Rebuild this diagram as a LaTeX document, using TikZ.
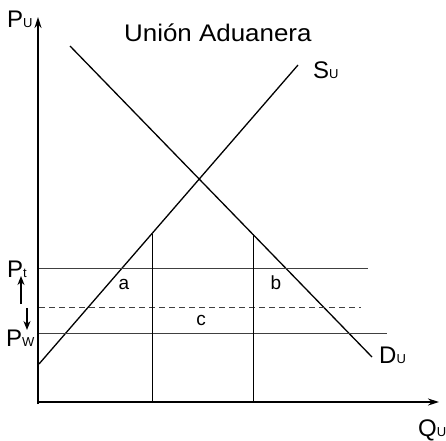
\documentclass[tikz,border=0pt]{standalone}
\usepackage{fontspec}
\setmainfont{Liberation Sans}
\newfontfamily\titlefont[FakeStretch=1.08]{Liberation Sans}
\usetikzlibrary{arrows.meta}
\newcommand{\bigtxt}{\fontsize{24}{27}\selectfont}
\newcommand{\subtxt}[1]{{\fontsize{13}{15}\selectfont #1}}

\begin{document}
\begin{tikzpicture}[x=1pt,y=1pt,yscale=-1,xscale=1]
            \useasboundingbox (0,0) rectangle (446,440);
            
            %Axes
            \coordinate (yfoot) at (38,404);
            \coordinate (ytop) at (38,17);
            \coordinate (xfoot) at (37,402);
            \coordinate (xend) at (439,402);
            \draw [line width=1.6pt, -{Stealth[length=11pt,width=7pt]}] (yfoot) -- (ytop) ;
            \draw [line width=1.6pt, -{Stealth[length=11pt,width=7pt]}] (xfoot) -- (xend) ;
            
            %Straight Lines (supply, demand)
            \coordinate (s0) at (39,364);
            \coordinate (s1) at (298,65);
            \coordinate (d0) at (70,46);
            \coordinate (d1) at (372,357);
            \draw [line width=1.3pt] (s0) -- (s1) ;
            \draw [line width=1.3pt] (d0) -- (d1) ;
            
            %Straight Lines (prices)
            \draw [line width=0.9pt, color=black!75] (39,268) -- (368,268) ;
            \draw [line width=0.9pt, color=black!75, dash pattern=on 6pt off 4pt] (39,307) -- (361,307) ;
            \draw [line width=0.9pt, color=black!75] (39,333) -- (387,333) ;
            
            %Straight Lines (quantities)
            \draw [line width=1pt] (152,234) -- (152,402) ;
            \draw [line width=1pt] (253,234) -- (253,402) ;
            
            %Arrows
            \coordinate (up0) at (21,304);
            \coordinate (up1) at (21,276);
            \coordinate (dn0) at (27,308);
            \coordinate (dn1) at (27,330);
            \draw [line width=1.6pt, -{Stealth[length=9pt,width=7pt]}] (up0) -- (up1) ;
            \draw [line width=1.6pt, -{Stealth[length=9pt,width=7pt]}] (dn0) -- (dn1) ;
            
            % Text Node
            \draw (124,41) node (title) [anchor=base west][inner sep=0pt] {\titlefont\fontsize{24}{27}\selectfont Unión Aduanera};
            % Text Node
            \draw (7,27) node (pu) [anchor=base west][inner sep=0pt] {\bigtxt P\subtxt{U}};
            % Text Node
            \draw (7,277) node (pt) [anchor=base west][inner sep=0pt] {\bigtxt P\subtxt{t}};
            % Text Node
            \draw (6,346) node (pw) [anchor=base west][inner sep=0pt] {\bigtxt P\subtxt{W}};
            % Text Node
            \draw (313,78) node (su) [anchor=base west][inner sep=0pt] {\bigtxt S\subtxt{U}};
            % Text Node
            \draw (379,363) node (du) [anchor=base west][inner sep=0pt] {\bigtxt D\subtxt{U}};
            % Text Node
            \draw (418,436) node (qu) [anchor=base west][inner sep=0pt] {\bigtxt Q\subtxt{U}};
            % Text Node
            \draw (124,289) node (ra) [anchor=base][inner sep=0pt] {\fontsize{19}{22}\selectfont a};
            % Text Node
            \draw (276,289) node (rb) [anchor=base][inner sep=0pt] {\fontsize{19}{22}\selectfont b};
            % Text Node
            \draw (201,325) node (rc) [anchor=base][inner sep=0pt] {\fontsize{19}{22}\selectfont c};
            
        \end{tikzpicture}
\end{document}
